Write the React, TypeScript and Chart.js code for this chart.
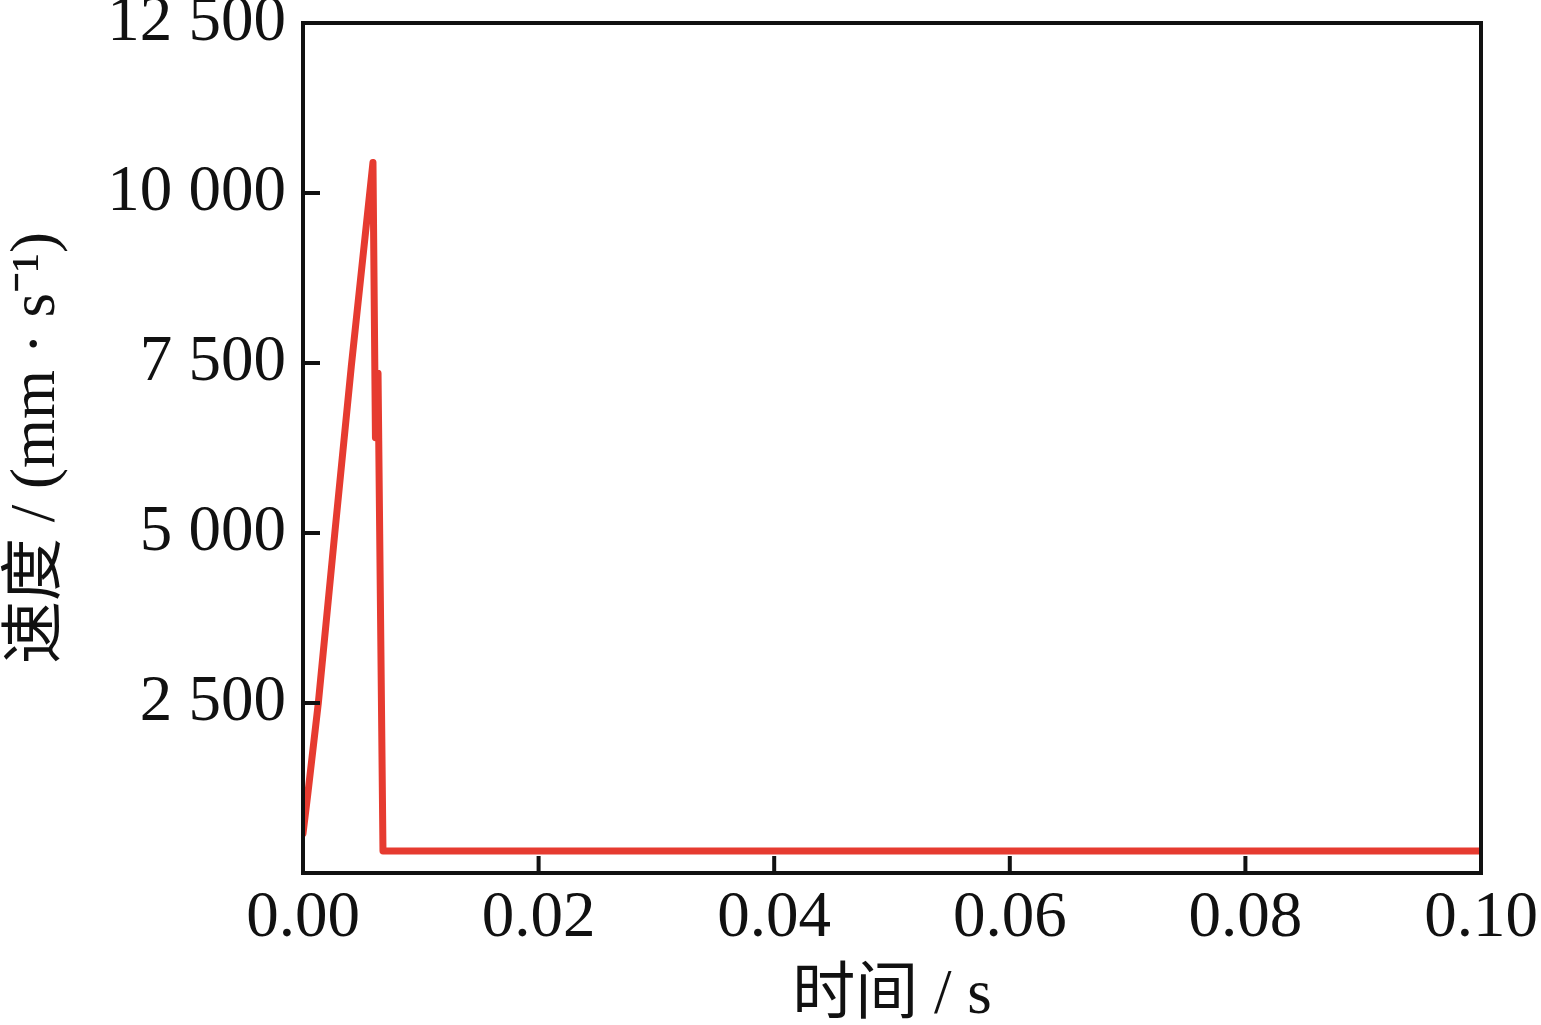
import React, { useEffect, useRef } from "react";
import { Chart, registerables } from "chart.js";

Chart.register(...registerables);

// Time (s) and speed (mm/s)
const timeS: number[] = [0, 0.0004, 0.0013, 0.0027, 0.0041, 0.00594, 0.00615, 0.00637, 0.00679, 0.1];
const speedMm: number[] = [580, 1150, 2500, 5000, 7450, 10450, 6400, 7350, 323, 323];

const xTicks: number[] = [0, 0.02, 0.04, 0.06, 0.08, 0.1];
const yTicks: number[] = [0, 2500, 5000, 7500, 10000, 12500];

const xTitle = "时间 / s";
const yTitle = "速度 / (mm · s⁻¹)";

const FONT = '"Liberation Serif", "Times New Roman", "Noto Sans CJK SC", serif';
const LINE_COLOR = "#e63b30";
const AXIS_COLOR = "#111111";

const fmtThousands = (v: number) =>
  String(Math.round(v)).replace(/\B(?=(\d{3})+(?!\d))/g, " ");

const frameAndTicks = {
  id: "frameAndTicks",
  afterDatasetsDraw(chart: any) {
    const { ctx, chartArea, scales } = chart;
    const { left, right, top, bottom } = chartArea;
    ctx.save();
    ctx.strokeStyle = AXIS_COLOR;
    ctx.lineWidth = 4;
    ctx.lineCap = "square";
    ctx.strokeRect(left, top, right - left, bottom - top);
    const len = 17;
    ctx.beginPath();
    xTicks.forEach((t) => {
      if (t <= xTicks[0] || t >= xTicks[xTicks.length - 1]) return;
      const px = scales.x.getPixelForValue(t);
      ctx.moveTo(px, bottom);
      ctx.lineTo(px, bottom - len);
    });
    yTicks.forEach((t) => {
      if (t <= yTicks[0] || t >= yTicks[yTicks.length - 1]) return;
      const py = scales.y.getPixelForValue(t);
      ctx.moveTo(left, py);
      ctx.lineTo(left + len, py);
    });
    ctx.lineCap = "butt";
    ctx.stroke();
    ctx.restore();
  },
};

export default function App() {
  const canvasRef = useRef<HTMLCanvasElement | null>(null);

  useEffect(() => {
    const canvas = canvasRef.current;
    if (!canvas) return;
    const chart = new Chart(canvas, {
      type: "line",
      data: {
        datasets: [
          {
            data: timeS.map((t, i) => ({ x: t, y: speedMm[i] })),
            borderColor: LINE_COLOR,
            backgroundColor: LINE_COLOR,
            borderWidth: 7,
            pointRadius: 0,
            tension: 0,
            borderJoinStyle: "round",
            borderCapStyle: "round",
            fill: false,
          },
        ],
      },
      options: {
        responsive: false,
        animation: false,
        events: [],
        layout: { padding: { left: 0, right: 60, top: 23, bottom: 0 } },
        plugins: {
          legend: { display: false },
          tooltip: { enabled: false },
        },
        scales: {
          x: {
            type: "linear",
            min: 0,
            max: 0.1,
            afterBuildTicks: (scale: any) => {
              scale.ticks = xTicks.map((v) => ({ value: v }));
            },
            grid: { display: false, drawTicks: false },
            border: { display: false },
            ticks: {
              color: AXIS_COLOR,
              font: { family: FONT, size: 65, lineHeight: 1.2 },
              padding: 7,
              maxRotation: 0,
              autoSkip: false,
              callback: (v: any) => Number(v).toFixed(2),
            },
            title: {
              display: true,
              text: xTitle,
              color: AXIS_COLOR,
              font: { family: FONT, size: 63, lineHeight: 0.9 },
              padding: { top: 0, bottom: 0 },
            },
            afterFit: (scale: any) => {
              scale.height = 152;
              scale.paddingLeft = 0;
              scale.paddingRight = 0;
            },
          },
          y: {
            type: "linear",
            min: 0,
            max: 12500,
            afterBuildTicks: (scale: any) => {
              scale.ticks = yTicks.map((v) => ({ value: v }));
            },
            grid: { display: false, drawTicks: false },
            border: { display: false },
            ticks: {
              color: AXIS_COLOR,
              font: { family: FONT, size: 65, lineHeight: 1 },
              padding: 17,
              autoSkip: false,
              callback: (v: any) => (Number(v) === 0 ? "" : fmtThousands(Number(v))),
            },
            title: {
              display: true,
              text: yTitle,
              color: AXIS_COLOR,
              font: { family: FONT, size: 63, lineHeight: 1 },
              padding: { top: 6, bottom: 0 },
            },
            afterFit: (scale: any) => {
              scale.width = 303;
              scale.paddingTop = 0;
              scale.paddingBottom = 0;
            },
          },
        },
      },
      plugins: [frameAndTicks],
    } as any);
    return () => chart.destroy();
  }, []);

  return (
    <div style={{ position: "absolute", left: 0, top: 0, width: 1541, height: 1025, background: "#fff" }}>
      <canvas ref={canvasRef} width={1541} height={1025} style={{ display: "block" }} />
    </div>
  );
}
